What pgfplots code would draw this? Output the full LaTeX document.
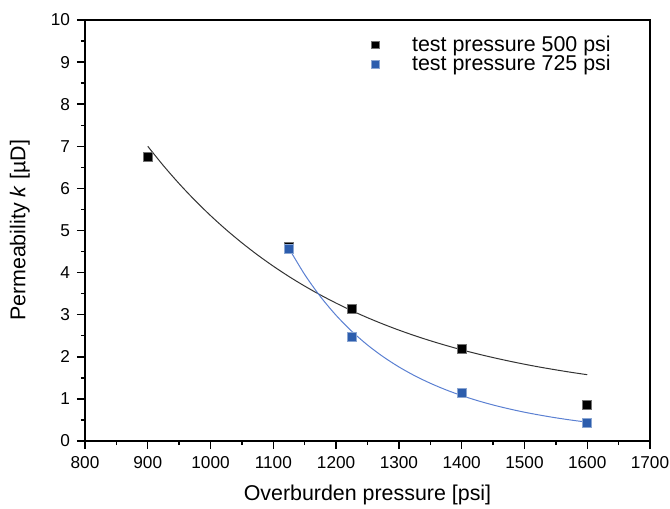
\documentclass[border=0pt]{standalone}
\usepackage{pgfplots}
\pgfplotsset{compat=1.18}
\usepackage{fontspec}
\setmainfont{Liberation Sans}
\definecolor{bmark}{HTML}{2C5DAD}
\definecolor{bline}{HTML}{5B80D2}
\begin{document}
\begin{tikzpicture}
\useasboundingbox (-42.5pt,-34pt) rectangle (292.5pt,220.5pt);
\begin{axis}[
  at={(0pt,0pt)}, anchor=south west,
  scale only axis,
  width=282.5pt, height=210.5pt,
  xmin=800, xmax=1700, ymin=0, ymax=10,
  xtick={800,900,...,1700}, ytick={0,1,...,10},
  minor x tick num=1, minor y tick num=1,
  tick align=outside,
  axis x line*=bottom, axis y line*=left,
  major tick length=4pt, minor tick length=2pt,
  axis line style={line width=0.8pt},
  every tick/.style={black, line width=0.7pt},
  /pgf/number format/assume math mode=true,
  /pgf/number format/1000 sep={},
  tick label style={font=\fontsize{8.6}{10}\selectfont},
  label style={font=\fontsize{10.7}{12}\selectfont},
  xlabel={Overburden pressure [psi]},
  ylabel={Permeability \textit{k} [µD]},
  xlabel style={at={([yshift=-29.5pt]axis description cs:0.5,0)}, anchor=base},
  ylabel style={at={([xshift=-29.75pt]axis description cs:0,0.5)}, anchor=base},
  legend style={at={(axis description cs:0.5074,0.9625)}, anchor=north west,
    draw=none, fill=none, inner sep=0pt, outer sep=0pt,
    nodes={inner sep=0pt},
    font=\fontsize{10.7}{12}\selectfont, row sep=0.4pt,
    /tikz/every odd column/.append style={column sep=16.6pt}},
  legend image post style={mark size=1.8pt},
  legend cell align=left,
  clip=false,
]
% frame top and right
\draw[line width=0.8pt] (rel axis cs:0,1) -- (rel axis cs:1,1) -- (rel axis cs:1,0);
% fitted curves
\addplot[black!80, line width=0.5pt, smooth, forget plot] coordinates {
(900,7.000) (925,6.539) (950,6.112) (975,5.718) (1000,5.354) (1025,5.017)
(1050,4.706) (1075,4.418) (1100,4.152) (1125,3.906) (1150,3.679) (1175,3.469)
(1200,3.275) (1225,3.095) (1250,2.929) (1275,2.776) (1300,2.634) (1325,2.503)
(1350,2.382) (1375,2.270) (1400,2.166) (1425,2.070) (1450,1.982) (1475,1.900)
(1500,1.824) (1525,1.754) (1550,1.690) (1575,1.630) (1600,1.575)};
\addplot[bline, line width=0.5pt, smooth, forget plot] coordinates {
(1125,4.570) (1150,3.953) (1175,3.430) (1200,2.985) (1225,2.605) (1250,2.280)
(1275,2.001) (1300,1.760) (1325,1.552) (1350,1.372) (1375,1.215) (1400,1.079)
(1425,0.960) (1450,0.856) (1475,0.765) (1500,0.684) (1525,0.614) (1550,0.551)
(1575,0.496) (1600,0.447)};
% data
\addplot[only marks, mark=square*, mark size=2.25pt, mark options={draw=black!55, fill=black, line width=0.3pt}] coordinates {
(900,6.75) (1125,4.61) (1225,3.13) (1400,2.19) (1600,0.86)};
\addlegendentry{test pressure 500 psi}
\addplot[only marks, mark=square*, mark size=2.25pt, mark options={draw=bmark!55, fill=bmark, line width=0.3pt}] coordinates {
(1125,4.56) (1225,2.48) (1400,1.15) (1600,0.43)};
\addlegendentry{test pressure 725 psi}
\end{axis}
\end{tikzpicture}
\end{document}
